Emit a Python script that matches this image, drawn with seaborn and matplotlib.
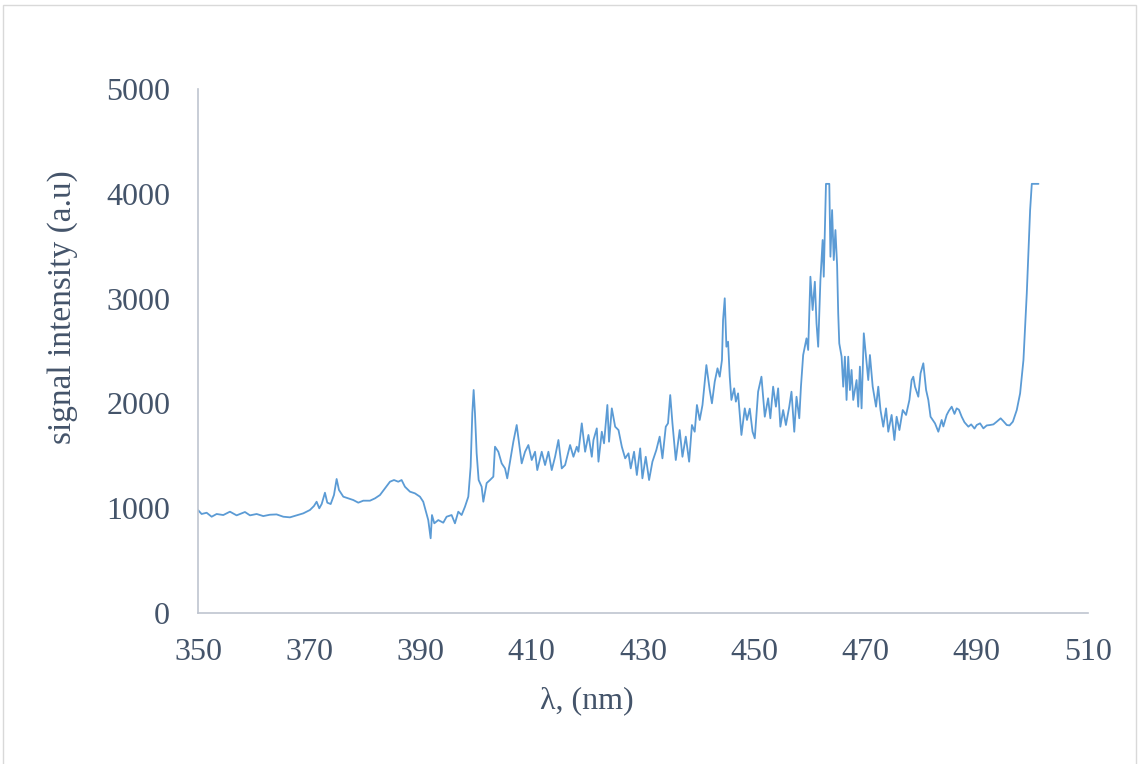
import matplotlib
matplotlib.use("Agg")
import matplotlib.pyplot as plt
import seaborn as sns
import pandas as pd
from matplotlib.patches import Rectangle

# Emission spectrum: wavelength (nm) and detector counts (a.u.)
wavelength = [
    350.00, 350.66, 351.56, 352.46, 353.36, 354.55, 355.75, 356.95, 358.45, 359.35,
    360.55, 361.74, 362.94, 364.14, 365.34, 366.54, 367.74, 368.93, 370.13, 370.85,
    371.33, 371.81, 372.24, 372.83, 373.25, 373.86, 374.45, 374.93, 375.35, 376.13,
    377.03, 377.93, 378.82, 379.72, 380.92, 381.82, 382.72, 383.62, 384.52, 385.24,
    386.01, 386.61, 387.21, 388.11, 389.01, 389.91, 390.50, 390.99, 391.40, 391.83,
    392.07, 392.49, 393.20, 394.10, 394.70, 395.60, 396.20, 396.80, 397.40, 398.00,
    398.60, 399.02, 399.32, 399.56, 399.80, 400.10, 400.46, 401.00, 401.30, 401.90,
    402.50, 403.10, 403.40, 404.00, 404.60, 405.20, 405.60, 406.10, 406.70, 407.30,
    407.80, 408.20, 408.80, 409.40, 410.00, 410.60, 411.00, 411.80, 412.40, 413.00,
    413.60, 414.20, 414.80, 415.40, 416.00, 416.90, 417.50, 418.10, 418.40, 419.00,
    419.60, 420.20, 420.80, 421.10, 421.70, 422.00, 422.60, 423.00, 423.60, 423.90,
    424.40, 425.00, 425.60, 426.20, 426.80, 427.40, 427.80, 428.40, 428.90, 429.50,
    429.90, 430.50, 431.10, 431.70, 432.40, 433.00, 433.50, 434.10, 434.50, 434.90,
    435.30, 435.90, 436.60, 437.10, 437.70, 438.30, 438.80, 439.30, 439.70, 440.20,
    440.70, 441.40, 442.00, 442.40, 442.90, 443.40, 443.80, 444.20, 444.40, 444.70,
    445.00, 445.30, 445.60, 445.90, 446.40, 446.70, 447.10, 447.70, 448.30, 448.70,
    449.20, 449.70, 450.10, 450.70, 451.30, 451.90, 452.50, 452.90, 453.40, 453.90,
    454.30, 454.70, 455.20, 455.70, 456.30, 456.70, 457.20, 457.60, 458.10, 458.40,
    458.80, 459.40, 459.70, 460.10, 460.50, 460.90, 461.20, 461.50, 461.90, 462.30,
    462.50, 462.90, 463.50, 463.70, 464.00, 464.30, 464.60, 464.90, 465.10, 465.29,
    465.71, 466.00, 466.30, 466.60, 466.90, 467.20, 467.50, 467.80, 468.40, 468.70,
    469.00, 469.30, 469.70, 470.10, 470.50, 470.80, 471.30, 471.90, 472.30, 472.70,
    473.20, 473.70, 474.10, 474.70, 475.20, 475.60, 476.10, 476.70, 477.30, 477.90,
    478.30, 478.60, 478.90, 479.50, 479.90, 480.40, 480.90, 481.30, 481.70, 482.50,
    483.10, 483.70, 484.00, 484.60, 485.00, 485.50, 486.00, 486.40, 486.80, 487.30,
    487.80, 488.50, 489.00, 489.60, 490.00, 490.60, 491.20, 491.80, 492.40, 493.00,
    493.60, 494.30, 494.80, 495.40, 495.90, 496.50, 497.20, 497.80, 498.40, 499.00,
    499.60, 499.90, 501.10,
]

intensity = [
    983, 945, 957, 919, 945, 935, 967, 932, 964, 932,
    945, 925, 938, 941, 919, 913, 932, 951, 983, 1021,
    1062, 999, 1040, 1148, 1053, 1040, 1126, 1279, 1174, 1110,
    1094, 1078, 1053, 1072, 1072, 1094, 1126, 1190, 1253, 1269,
    1253, 1269, 1205, 1158, 1142, 1110, 1062, 967, 887, 713,
    935, 856, 887, 862, 919, 935, 856, 967, 935, 1014,
    1110, 1396, 1905, 2128, 1905, 1524, 1269, 1205, 1062, 1240,
    1269, 1301, 1587, 1539, 1428, 1380, 1285, 1444, 1635, 1794,
    1587, 1428, 1539, 1603, 1460, 1539, 1364, 1539, 1412, 1539,
    1364, 1491, 1651, 1380, 1412, 1603, 1491, 1587, 1539, 1810,
    1539, 1699, 1491, 1651, 1762, 1444, 1730, 1619, 1985, 1635,
    1953, 1778, 1746, 1587, 1476, 1524, 1380, 1539, 1317, 1571,
    1285, 1491, 1269, 1444, 1555, 1683, 1476, 1778, 1810, 2080,
    1810, 1460, 1746, 1491, 1683, 1444, 1794, 1730, 1985, 1842,
    1985, 2366, 2128, 2001, 2207, 2335, 2255, 2414, 2796, 3003,
    2541, 2589, 2255, 2033, 2144, 2017, 2096, 1699, 1953, 1842,
    1950, 1730, 1667, 2112, 2255, 1873, 2049, 1858, 2160, 1969,
    2144, 1778, 1937, 1794, 1969, 2112, 1730, 2064, 1858, 2160,
    2462, 2621, 2510, 3209, 2891, 3161, 2764, 2541, 3177, 3559,
    3209, 4095, 4095, 3400, 3845, 3368, 3654, 3320, 2860, 2573,
    2446, 2160, 2446, 2033, 2446, 2128, 2319, 2033, 2223, 1969,
    2351, 1953, 2669, 2446, 2223, 2462, 2160, 1969, 2160, 1937,
    1778, 1953, 1730, 1890, 1651, 1873, 1746, 1937, 1890, 2033,
    2223, 2255, 2160, 2064, 2287, 2383, 2128, 2033, 1873, 1810,
    1730, 1842, 1780, 1890, 1930, 1969, 1900, 1953, 1940, 1873,
    1820, 1778, 1800, 1760, 1794, 1810, 1762, 1790, 1794, 1800,
    1826, 1858, 1830, 1794, 1790, 1826, 1937, 2096, 2414, 3051,
    3845, 4095, 4095,
]

x_ticks = [350, 370, 390, 410, 430, 450, 470, 490, 510]
y_ticks = [0, 1000, 2000, 3000, 4000, 5000]

x_label = "λ, (nm)"
y_label = "signal intensity (a.u)"

spectrum = pd.DataFrame({"wavelength": wavelength, "intensity": intensity})

sns.set_theme(style="white")
plt.rcParams["font.family"] = ["Liberation Serif", "DejaVu Serif"]

text_color = "#44546A"
axis_color = "#BFC5CF"
line_color = "#5B9BD5"

fig = plt.figure(figsize=(11.39, 7.64), dpi=100)
ax = fig.add_axes([0.1738, 0.1976, 0.9552 - 0.1738, 0.8835 - 0.1976])

sns.lineplot(data=spectrum, x="wavelength", y="intensity", ax=ax,
             sort=False, estimator=None, color=line_color, linewidth=1.3)

ax.set_xlim(350, 510)
ax.set_ylim(0, 5000)
ax.set_xticks(x_ticks)
ax.set_yticks(y_ticks)
ax.tick_params(axis="both", length=0, labelsize=23, colors=text_color)
ax.tick_params(axis="y", pad=20)
ax.tick_params(axis="x", pad=18)

ax.set_xlabel(x_label, fontsize=23, color=text_color)
ax.set_ylabel(y_label, fontsize=24, color=text_color)
ax.xaxis.set_label_coords(0.437, -0.14)
ax.yaxis.set_label_coords(-0.135, 0.584)

for side in ("top", "right"):
    ax.spines[side].set_visible(False)
for side in ("left", "bottom"):
    ax.spines[side].set_color(axis_color)
    ax.spines[side].set_linewidth(1.2)

ax.grid(False)

# Light chart-area frame
fig.patches.append(Rectangle((3 / 1139, -0.01), 1133 / 1139, 1 - 5 / 764 + 0.01,
                             transform=fig.transFigure, fill=False,
                             edgecolor="#D9D9D9", linewidth=1.0))

fig.savefig("out.png", dpi=100, facecolor="white")
